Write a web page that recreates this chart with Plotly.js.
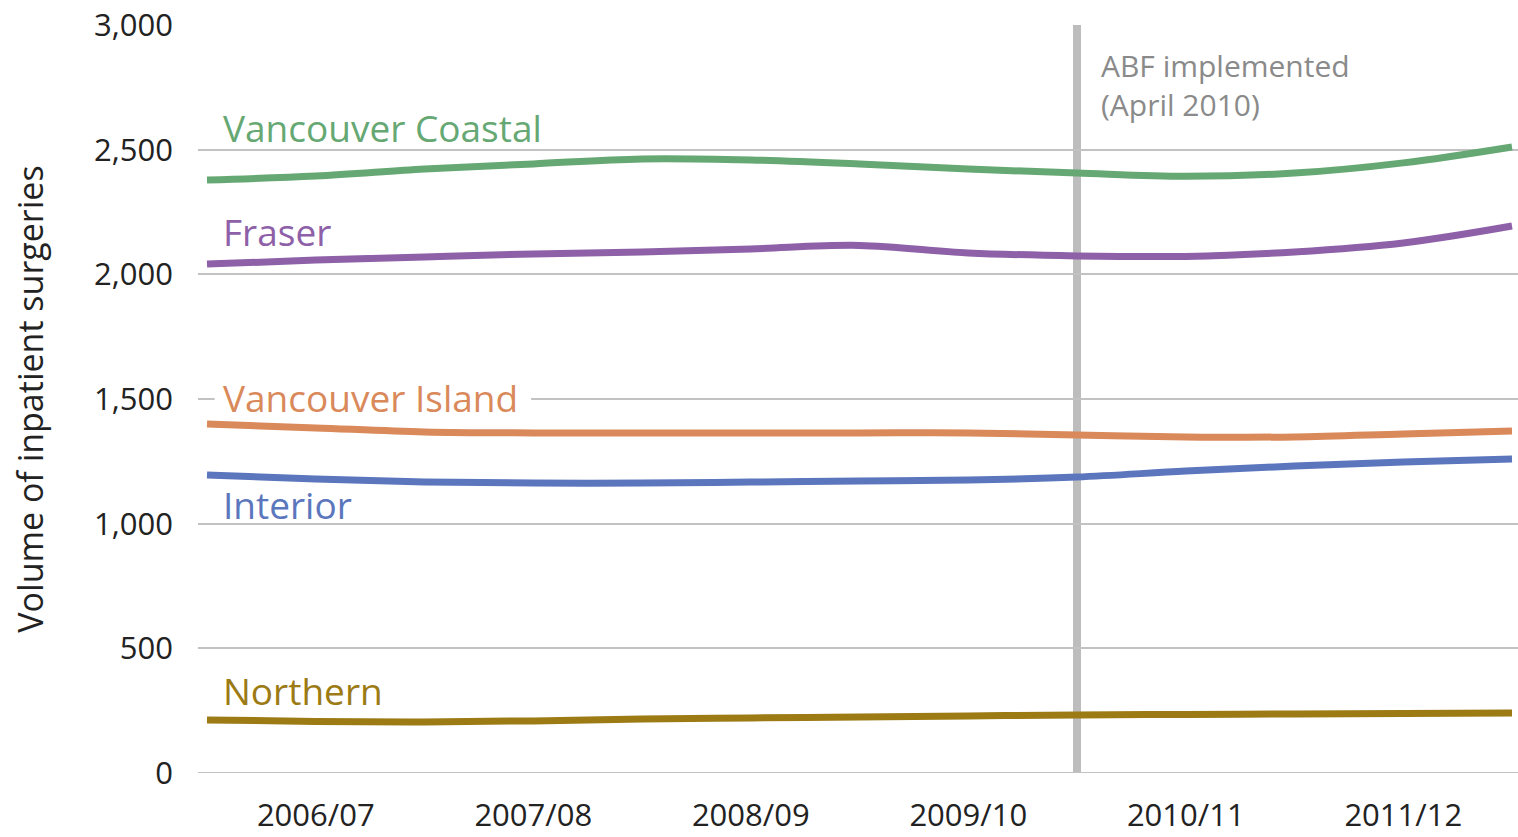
<!DOCTYPE html>
<html>
<head>
<meta charset="utf-8">
<script src="https://cdn.plot.ly/plotly-3.0.1.min.js"></script>
<style>html,body{margin:0;padding:0;background:#fff;}#chart{width:1518px;height:837px;}</style>
</head>
<body>
<div id="chart"></div>
<script>
// x = years since April 2006 (fiscal-year start)
const xYears = [0, 0.5, 1, 1.5, 2, 2.5, 3, 3.5, 4, 4.5, 5, 5.5, 6];
const tickVals = [0.5, 1.5, 2.5, 3.5, 4.5, 5.5];
const tickLabels = ["2006/07", "2007/08", "2008/09", "2009/10", "2010/11", "2011/12"];

const vancouverCoastal = [2378, 2394, 2422, 2443, 2463, 2459, 2443, 2422, 2406, 2393, 2406, 2447, 2511];
const fraser           = [2041, 2057, 2070, 2082, 2090, 2102, 2116, 2086, 2074, 2072, 2090, 2126, 2194];
const vancouverIsland  = [1400, 1384, 1368, 1364, 1364, 1364, 1364, 1364, 1356, 1348, 1348, 1360, 1372];
const interior         = [1195, 1179, 1167, 1163, 1163, 1167, 1171, 1175, 1187, 1211, 1231, 1247, 1259];
const northern         = [213, 207, 205, 209, 217, 221, 225, 229, 233, 235, 237, 239, 241];

const abfX = 4;
const FONT = "Open Sans, Noto Sans, sans-serif";

const series = [
  {name: "Vancouver Coastal", y: vancouverCoastal, color: "#66a873", lx: 0.07, ly: 2590},
  {name: "Fraser",            y: fraser,           color: "#8e60a8", lx: 0.07, ly: 2170},
  {name: "Vancouver Island",  y: vancouverIsland,  color: "#d9895a", lx: 0.07, ly: 1505},
  {name: "Interior",          y: interior,         color: "#5b76bd", lx: 0.07, ly: 1075},
  {name: "Northern",          y: northern,         color: "#9c7a14", lx: 0.07, ly: 330}
];

const traces = series.map(s => ({
  type: "scatter", mode: "lines", x: xYears, y: s.y, name: s.name,
  line: {color: s.color, width: 7, shape: "spline", smoothing: 1},
  hoverinfo: "x+y"
}));

const annotations = series.map(s => ({
  x: s.lx, y: s.ly, xref: "x", yref: "y", text: s.name, showarrow: false,
  xanchor: "left", yanchor: "middle",
  font: {family: FONT, size: 37, color: s.color},
  borderpad: 0
}));
annotations.push({
  x: abfX + 0.1, y: 1, xref: "x", yref: "paper", yanchor: "top", xanchor: "left", align: "left",
  showarrow: false, text: "ABF implemented<br>(April 2010)",
  font: {family: FONT, size: 30, color: "#8a8a8a"}, yshift: -18
});

const layout = {
  width: 1518, height: 837,
  margin: {l: 198, r: 0, t: 25, b: 64},
  paper_bgcolor: "#ffffff", plot_bgcolor: "#ffffff",
  showlegend: false,
  font: {family: FONT, color: "#222"},
  xaxis: {
    range: [-0.0414, 6.0276], tickvals: tickVals, ticktext: tickLabels,
    showgrid: false, zeroline: false, showline: false, ticks: "",
    tickfont: {family: FONT, size: 31, color: "#222"}, ticklabelstandoff: 21
  },
  yaxis: {
    range: [0, 3000], tickvals: [0, 500, 1000, 1500, 2000, 2500, 3000], tickformat: ",",
    showgrid: true, gridcolor: "#c2c2c2", gridwidth: 2, zeroline: false, showline: false,
    tickfont: {family: FONT, size: 31, color: "#222"}, ticks: "", ticklabelstandoff: 24,
    title: {text: "Volume of inpatient surgeries", font: {family: FONT, size: 34, color: "#222"}, standoff: 40}
  },
  shapes: [
    {type: "line", xref: "x", yref: "y", x0: -0.0414, x1: 6.0276, y0: 0, y1: 0, line: {color: "#c2c2c2", width: 2}, layer: "between"},
    {type: "rect", xref: "x", yref: "y", x0: 0.035, x1: 1.49, y0: 1470, y1: 1530, fillcolor: "#ffffff", line: {width: 0}, layer: "between"},
    {type: "line", xref: "x", yref: "paper", x0: abfX, x1: abfX, y0: 0, y1: 1, line: {color: "#bdbdbd", width: 8}, layer: "between"}
  ],
  annotations: annotations
};

Plotly.newPlot("chart", traces, layout, {displayModeBar: false, staticPlot: true});
</script>
</body>
</html>
